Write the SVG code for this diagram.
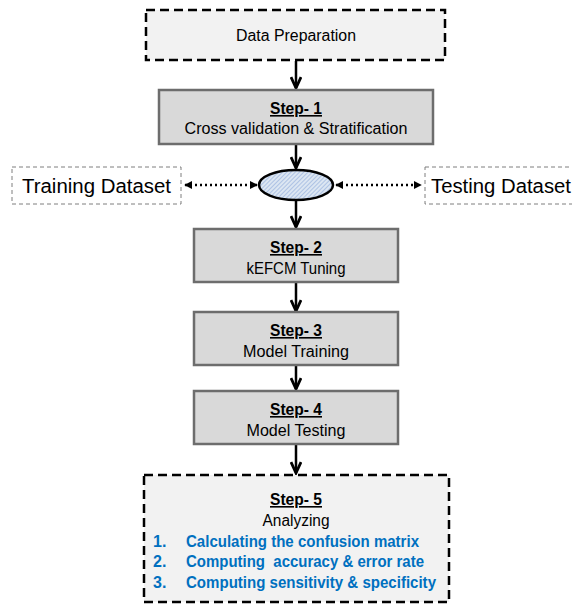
<svg xmlns="http://www.w3.org/2000/svg" width="572" height="604" viewBox="0 0 572 604">
<defs>
<style>
.t{font-family:"Liberation Sans",Arial,sans-serif;font-size:16px;fill:#000;text-anchor:middle}
.h{font-weight:bold;text-decoration:underline}
.big{font-size:20px}
.blue{fill:#0070c0;font-weight:bold;text-anchor:start}
.step{fill:#d9d9d9;stroke:#6d6d6d;stroke-width:2.5}
.dash{fill:#f2f2f2;stroke:#000;stroke-width:2.5;stroke-dasharray:9 5}
.thin{fill:#fff;stroke:#7f7f7f;stroke-width:1;stroke-dasharray:4 3}
.dot{stroke:#000;stroke-width:2.5;stroke-dasharray:2 3;fill:none;marker-start:url(#th);marker-end:url(#th)}
</style>
<marker id="th" viewBox="0 0 10 10" refX="9" refY="5" markerWidth="8" markerHeight="8" markerUnits="userSpaceOnUse" orient="auto-start-reverse">
<path d="M0,0 L10,5 L0,10 Z" fill="#000"/>
</marker>
<marker id="ah2" viewBox="0 0 14 12" refX="12" refY="6" markerWidth="14" markerHeight="12" markerUnits="userSpaceOnUse" orient="auto">
<path d="M1,1 L12,6 L1,11" fill="none" stroke="#000" stroke-width="2.8"/>
</marker>
<pattern id="hatch" width="3" height="3" patternUnits="userSpaceOnUse" patternTransform="rotate(45)">
<rect width="3" height="3" fill="#dce6f2"/>
<line x1="0" y1="0" x2="0" y2="3" stroke="#8eaadb" stroke-width="1.2"/>
</pattern>
</defs>
<g id="connectors">
<line x1="296" y1="61" x2="296" y2="88" stroke="#000" stroke-width="2.5" marker-end="url(#ah2)"/>
<line x1="296" y1="145" x2="296" y2="168" stroke="#000" stroke-width="2.5" marker-end="url(#ah2)"/>
<line x1="296" y1="200" x2="296" y2="227" stroke="#000" stroke-width="2.5" marker-end="url(#ah2)"/>
<line x1="296" y1="283" x2="296" y2="311" stroke="#000" stroke-width="2.5" marker-end="url(#ah2)"/>
<line x1="296" y1="366" x2="296" y2="389" stroke="#000" stroke-width="2.5" marker-end="url(#ah2)"/>
<line x1="296" y1="445" x2="296" y2="473" stroke="#000" stroke-width="2.5" marker-end="url(#ah2)"/>
<line class="dot" x1="185" y1="185" x2="257" y2="185"/>
<line class="dot" x1="336" y1="185" x2="421" y2="185"/>
</g>
<g id="data-preparation">
<rect class="dash" x="146" y="10" width="299" height="50"/>
<text class="t" x="296" y="41" textLength="120" lengthAdjust="spacingAndGlyphs">Data Preparation</text>
</g>
<g id="step1">
<rect class="step" x="159" y="90" width="274" height="54"/>
<text class="t h" x="296" y="114" textLength="52" lengthAdjust="spacingAndGlyphs">Step- 1</text>
<text class="t" x="296" y="134" textLength="223" lengthAdjust="spacingAndGlyphs">Cross validation &amp; Stratification</text>
</g>
<g id="split">
<ellipse cx="296" cy="185" rx="37" ry="15" fill="url(#hatch)" stroke="#000" stroke-width="2.5"/>
</g>
<g id="training-dataset">
<rect class="thin" x="12" y="167" width="169" height="37"/>
<text class="t big" x="96.5" y="193" textLength="149" lengthAdjust="spacingAndGlyphs">Training Dataset</text>
</g>
<g id="testing-dataset">
<rect class="thin" x="425" y="167" width="150" height="37"/>
<text class="t big" x="501" y="193" textLength="140" lengthAdjust="spacingAndGlyphs">Testing Dataset</text>
</g>
<g id="step2">
<rect class="step" x="194" y="229" width="204" height="53"/>
<text class="t h" x="296" y="253" textLength="52" lengthAdjust="spacingAndGlyphs">Step- 2</text>
<text class="t" x="296" y="274" textLength="99" lengthAdjust="spacingAndGlyphs">kEFCM Tuning</text>
</g>
<g id="step3">
<rect class="step" x="194" y="312" width="204" height="53"/>
<text class="t h" x="296" y="336" textLength="52" lengthAdjust="spacingAndGlyphs">Step- 3</text>
<text class="t" x="296" y="357" textLength="106" lengthAdjust="spacingAndGlyphs">Model Training</text>
</g>
<g id="step4">
<rect class="step" x="194" y="391" width="204" height="53"/>
<text class="t h" x="296" y="415" textLength="52" lengthAdjust="spacingAndGlyphs">Step- 4</text>
<text class="t" x="296" y="436" textLength="99" lengthAdjust="spacingAndGlyphs">Model Testing</text>
</g>
<g id="step5">
<rect class="dash" x="144" y="475" width="305" height="127"/>
<text class="t h" x="296" y="505" textLength="52" lengthAdjust="spacingAndGlyphs">Step- 5</text>
<text class="t" x="296" y="526" textLength="67" lengthAdjust="spacingAndGlyphs">Analyzing</text>
<text class="t blue" x="153" y="547">1.</text>
<text class="t blue" x="186" y="547" textLength="233" lengthAdjust="spacingAndGlyphs">Calculating the confusion matrix</text>
<text class="t blue" x="153" y="567">2.</text>
<text class="t blue" x="186" y="567" xml:space="preserve" textLength="238" lengthAdjust="spacingAndGlyphs">Computing  accuracy &amp; error rate</text>
<text class="t blue" x="153" y="588">3.</text>
<text class="t blue" x="186" y="588" textLength="250" lengthAdjust="spacingAndGlyphs">Computing sensitivity &amp; specificity</text>
</g>
</svg>
